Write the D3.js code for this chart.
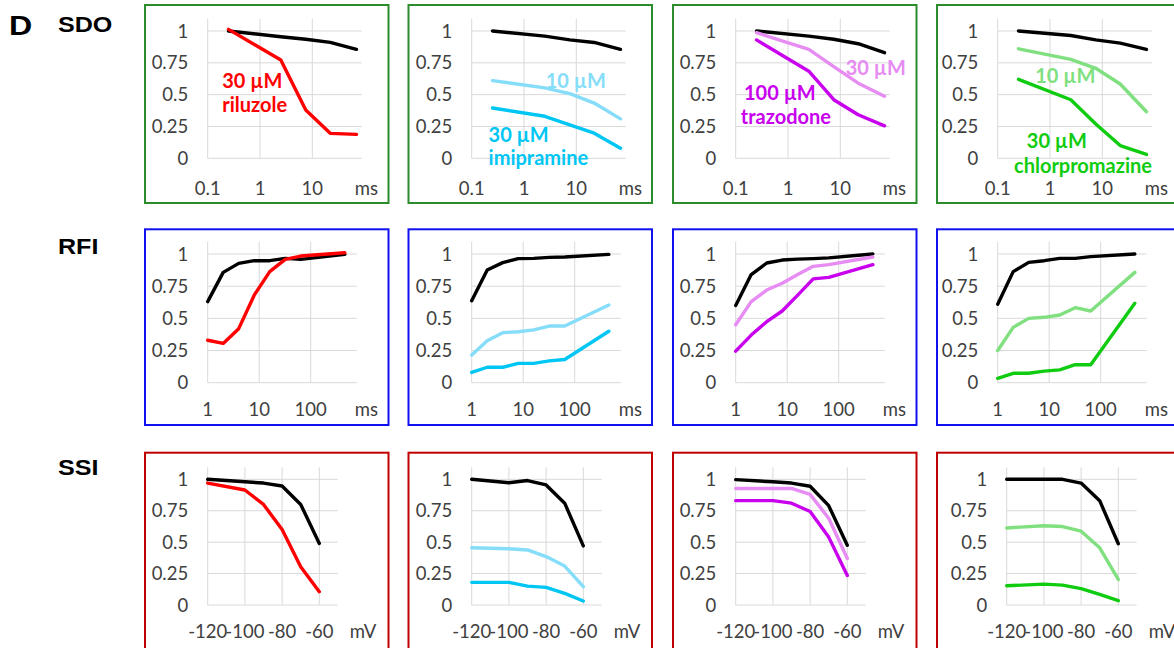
<!DOCTYPE html>
<html>
<head>
<meta charset="utf-8">
<script src="https://cdn.jsdelivr.net/npm/d3@7"></script>
<style>
  html, body { margin: 0; padding: 0; background: #fff; }
  svg { display: block; }
</style>
</head>
<body>
<svg id="chart" width="1174" height="648"></svg>
<script>
// ---------------- DATA ----------------
const rowNames = ["SDO", "RFI", "SSI"];
const drugNames = ["riluzole", "imipramine", "trazodone", "chlorpromazine"];

// x values (ms for SDO/RFI, mV for SSI)
const sdoX = [0.25, 2.5, 7.5, 22, 70];
const rfiX = [1, 2, 4, 8, 16, 32, 64, 460];
const ssiX = [-120, -100, -90, -80, -70, -60];

// tick labels
const sdoTicks = [0.1, 1, 10];
const rfiTicks = [1, 10, 100];
const ssiTicks = [-120, -100, -80, -60];
const yTicks = [0, 0.25, 0.5, 0.75, 1];
const yTickLabels = ["0", "0.25", "0.5", "0.75", "1"];
const unitLabels = ["ms", "ms", "mV"];

// SDO
const sdoCtrlRil   = [1.0, 0.955, 0.935, 0.911, 0.856];
const sdoRil30     = [1.013, 0.772, 0.38, 0.196, 0.188];
const sdoCtrlImip  = [1.0, 0.96, 0.93, 0.91, 0.856];
const sdoImip10    = [0.61, 0.553, 0.508, 0.434, 0.31];
const sdoImip30    = [0.395, 0.33, 0.263, 0.197, 0.079];
const sdoCtrlTraz  = [1.0, 0.96, 0.935, 0.90, 0.83];
const sdoTraz30    = [0.987, 0.855, 0.72, 0.59, 0.487];
const sdoTraz100   = [0.93, 0.684, 0.46, 0.342, 0.255];
const sdoCtrlChlor = [1.0, 0.965, 0.93, 0.905, 0.855];
const sdoChlor10   = [0.86, 0.777, 0.707, 0.584, 0.366];
const sdoChlor30   = [0.62, 0.46, 0.27, 0.10, 0.03];

// RFI
const rfiCtrlRil   = [0.63, 0.857, 0.927, 0.948, 0.948, 0.966, 0.958, 0.997];
const rfiRil30     = [0.33, 0.305, 0.42, 0.68, 0.863, 0.958, 0.984, 1.01];
const rfiCtrlImip  = [0.637, 0.876, 0.933, 0.964, 0.966, 0.974, 0.977, 0.997];
const rfiImip10    = [0.215, 0.326, 0.389, 0.396, 0.41, 0.44, 0.44, 0.604];
const rfiImip30    = [0.08, 0.12, 0.12, 0.15, 0.15, 0.17, 0.18, 0.40];
const rfiCtrlTraz  = [0.60, 0.84, 0.93, 0.953, 0.96, 0.964, 0.97, 1.0];
const rfiTraz30    = [0.45, 0.63, 0.72, 0.773, 0.84, 0.904, 0.917, 0.977];
const rfiTraz100   = [0.245, 0.37, 0.474, 0.557, 0.68, 0.807, 0.818, 0.917];
const rfiCtrlChlor = [0.61, 0.863, 0.935, 0.948, 0.966, 0.966, 0.98, 1.0];
const rfiChlor10   = [0.25, 0.43, 0.50, 0.508, 0.526, 0.583, 0.557, 0.857];
const rfiChlor30   = [0.034, 0.073, 0.073, 0.09, 0.10, 0.14, 0.14, 0.617];

// SSI
const ssiCtrlRil   = [1.0, 0.98, 0.97, 0.947, 0.80, 0.49];
const ssiRil30     = [0.97, 0.915, 0.80, 0.60, 0.305, 0.106];
const ssiCtrlImip  = [1.0, 0.973, 0.99, 0.955, 0.81, 0.47];
const ssiImip10    = [0.456, 0.448, 0.438, 0.385, 0.31, 0.146];
const ssiImip30    = [0.18, 0.18, 0.15, 0.14, 0.093, 0.032];
const ssiCtrlTraz  = [0.997, 0.98, 0.97, 0.945, 0.79, 0.475];
const ssiTraz30    = [0.927, 0.927, 0.927, 0.88, 0.69, 0.37];
const ssiTraz100   = [0.83, 0.83, 0.81, 0.744, 0.54, 0.235];
const ssiCtrlChlor = [1.0, 1.0, 1.0, 0.97, 0.83, 0.487];
const ssiChlor10   = [0.613, 0.63, 0.624, 0.587, 0.455, 0.203];
const ssiChlor30   = [0.153, 0.166, 0.158, 0.13, 0.084, 0.034];

// annotation texts (anchor given in data units of the SDO panels)
const annoText  = ["30 µM", "riluzole", "10 µM", "30 µM", "imipramine", "30 µM", "100 µM", "trazodone", "10 µM", "30 µM", "chlorpromazine"];
const annoPanel = [0, 0, 1, 1, 1, 2, 2, 2, 3, 3, 3];
const annoX     = [0.19, 0.19, 2.6, 0.21, 0.21, 12.7, 0.144, 0.125, 0.52, 0.36, 0.205];
const annoY     = [0.552, 0.36, 0.55, 0.13, -0.05, 0.654, 0.458, 0.269, 0.594, 0.079, -0.115];
const annoColor = ["ril30", "ril30", "imip10", "imip30", "imip30", "traz30", "traz100", "traz100", "chlor10", "chlor30", "chlor30"];

// ---------------- STYLE / LAYOUT ----------------
const colors = {
  ctrl: "#000000", ril30: "#FF0000",
  imip10: "#86DDF9", imip30: "#00C6F4",
  traz30: "#E68CF2", traz100: "#C800EE",
  chlor10: "#80E080", chlor30: "#10CC10"
};
const borderColors = ["#2A8C2A", "#1010F0", "#C00000"];

const seriesByRow = [
  [ [["ctrl", sdoCtrlRil], ["ril30", sdoRil30]],
    [["ctrl", sdoCtrlImip], ["imip10", sdoImip10], ["imip30", sdoImip30]],
    [["ctrl", sdoCtrlTraz], ["traz30", sdoTraz30], ["traz100", sdoTraz100]],
    [["ctrl", sdoCtrlChlor], ["chlor10", sdoChlor10], ["chlor30", sdoChlor30]] ],
  [ [["ctrl", rfiCtrlRil], ["ril30", rfiRil30]],
    [["ctrl", rfiCtrlImip], ["imip10", rfiImip10], ["imip30", rfiImip30]],
    [["ctrl", rfiCtrlTraz], ["traz30", rfiTraz30], ["traz100", rfiTraz100]],
    [["ctrl", rfiCtrlChlor], ["chlor10", rfiChlor10], ["chlor30", rfiChlor30]] ],
  [ [["ctrl", ssiCtrlRil], ["ril30", ssiRil30]],
    [["ctrl", ssiCtrlImip], ["imip10", ssiImip10], ["imip30", ssiImip30]],
    [["ctrl", ssiCtrlTraz], ["traz30", ssiTraz30], ["traz100", ssiTraz100]],
    [["ctrl", ssiCtrlChlor], ["chlor10", ssiChlor10], ["chlor30", ssiChlor30]] ]
];
const xByRow = [sdoX, rfiX, ssiX];
const ticksByRow = [sdoTicks, rfiTicks, ssiTicks];

const boxLeft = [145, 408.5, 673, 937];
const boxWidth = 243.5;
const axisX = [207.7, 471.7, 735.7, 997.7];

const rows = [
  { boxTop: 5,     boxBottom: 203, y0: 158.3, y1: 31,    tickBase: 194.5, type: "log", lo: 0.1,  width: 154, perUnit: 52.3, unitDx: 147, labelBase: 31.7 },
  { boxTop: 229.3, boxBottom: 425, y0: 382.7, y1: 254,   tickBase: 416,   type: "log", lo: 1,    width: 149, perUnit: 51.5, unitDx: 147, labelBase: 254 },
  { boxTop: 452.7, boxBottom: 652, y0: 605,   y1: 479.3, tickBase: 638.3, type: "lin", lo: -120, width: 130, perUnit: 37.2 / 20, unitDx: 142, labelBase: 475 }
];

const tickFont = "Lato, 'Open Sans', sans-serif";
const svg = d3.select("#chart");

// Panel letter and row titles
svg.append("text").attr("transform", "translate(9,35) scale(1.15,1)")
  .attr("font-family", "'Liberation Sans', Arial, sans-serif").attr("font-weight", "bold")
  .attr("font-size", 28).text("D");

rows.forEach((r, ri) => {
  svg.append("text").attr("transform", `translate(58,${r.labelBase}) scale(1.14,1)`)
    .attr("font-family", "'Liberation Sans', Arial, sans-serif").attr("font-weight", "bold")
    .attr("font-size", 22).text(rowNames[ri]);
});

rows.forEach((r, ri) => {
  for (let ci = 0; ci < 4; ci++) {
    const g = svg.append("g");
    const ax = (ri === 2 && ci === 3) ? axisX[ci] + 9 : axisX[ci];
    let x;
    if (r.type === "log") {
      const hi = r.lo * Math.pow(10, r.width / r.perUnit);
      x = d3.scaleLog().domain([r.lo, hi]).range([ax, ax + r.width]);
    } else {
      const hi = r.lo + r.width / r.perUnit;
      x = d3.scaleLinear().domain([r.lo, hi]).range([ax, ax + r.width]);
    }
    const y = d3.scaleLinear().domain([0, 1]).range([r.y0, r.y1]);
    const plotTop = y(1.095);

    // box
    g.append("rect")
      .attr("x", boxLeft[ci]).attr("y", r.boxTop)
      .attr("width", boxWidth).attr("height", r.boxBottom - r.boxTop)
      .attr("fill", "none").attr("stroke", borderColors[ri]).attr("stroke-width", 2);

    // horizontal gridlines
    g.selectAll("line.hg").data(yTicks).join("line")
      .attr("x1", ax).attr("x2", ax + r.width)
      .attr("y1", d => y(d)).attr("y2", d => y(d))
      .attr("stroke", "#d9d9d9").attr("stroke-width", 1);
    // vertical gridlines
    g.selectAll("line.vg").data(ticksByRow[ri]).join("line")
      .attr("x1", d => x(d)).attr("x2", d => x(d))
      .attr("y1", plotTop).attr("y2", y(0))
      .attr("stroke", "#d9d9d9").attr("stroke-width", 1);

    // y tick labels
    g.selectAll("text.yt").data(yTicks).join("text")
      .attr("x", ax - 19.5).attr("y", d => y(d)).attr("dy", "0.36em")
      .attr("text-anchor", "end").attr("font-family", tickFont)
      .attr("font-size", 18.5).attr("fill", "#404040")
      .text((d, i) => yTickLabels[i]);

    // x tick labels
    g.selectAll("text.xt").data(ticksByRow[ri]).join("text")
      .attr("x", d => x(d)).attr("y", r.tickBase)
      .attr("text-anchor", "middle").attr("font-family", tickFont)
      .attr("font-size", 18.5).attr("fill", "#404040")
      .text(d => String(d));
    g.append("text").attr("x", ax + r.unitDx).attr("y", r.tickBase)
      .attr("font-family", tickFont).attr("font-size", 18.5).attr("fill", "#404040")
      .text(unitLabels[ri]);

    // series lines
    const line = d3.line().x(d => x(d[0])).y(d => y(d[1]));
    seriesByRow[ri][ci].forEach(([key, vals]) => {
      const pts = xByRow[ri].map((xv, k) => [xv, vals[k]]);
      g.append("path").attr("d", line(pts))
        .attr("fill", "none").attr("stroke", colors[key])
        .attr("stroke-width", 3.4).attr("stroke-linejoin", "round").attr("stroke-linecap", "round");
    });

    // annotations (SDO row only)
    if (ri === 0) {
      annoText.forEach((t, k) => {
        if (annoPanel[k] !== ci) return;
        g.append("text").attr("x", x(annoX[k])).attr("y", y(annoY[k]))
          .attr("font-family", tickFont).attr("font-weight", "bold")
          .attr("font-size", 20).attr("fill", colors[annoColor[k]])
          .text(t);
      });
    }
  }
});
</script>
</body>
</html>
